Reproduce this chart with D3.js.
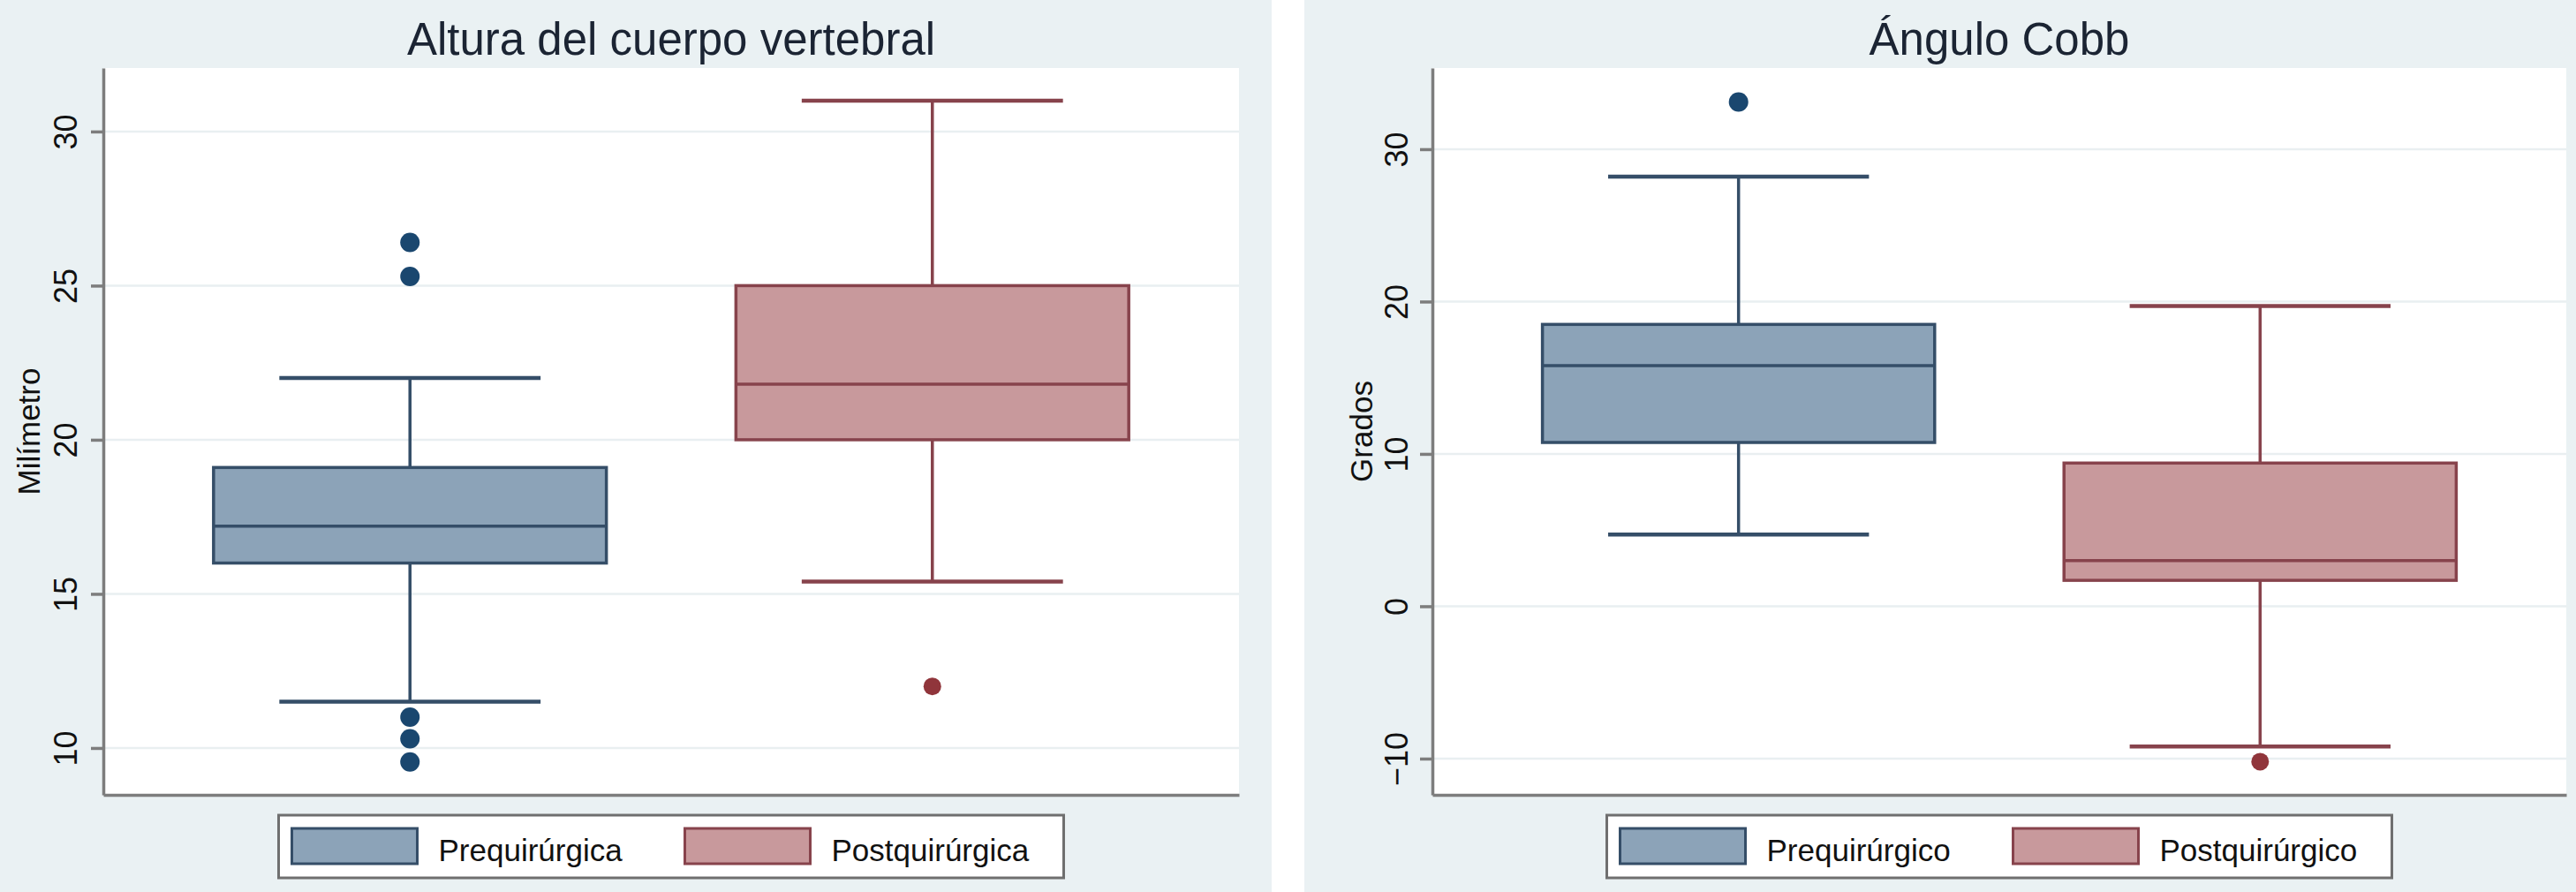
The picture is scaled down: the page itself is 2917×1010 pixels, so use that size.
<!DOCTYPE html>
<html lang="es">
  <head>
    <meta charset="UTF-8" />
    <title>Altura del cuerpo vertebral / Ángulo Cobb</title>
    <style>
      body {
        margin: 0;
        background: #fff;
        font-family: "Liberation Sans", Arial, Helvetica, sans-serif;
      }
      .title {
        font-size: 51px;
        fill: #1b2433;
        text-anchor: middle;
      }
      .y-title {
        font-size: 35px;
        fill: #111;
        text-anchor: middle;
      }
      .axis text {
        font-family: "Liberation Sans", Arial, Helvetica, sans-serif;
        font-size: 36px;
        fill: #111;
      }
      .axis path,
      .axis line {
        stroke: #7d7d7d;
        stroke-width: 3.5;
      }
      .legend-label {
        font-size: 35px;
        fill: #111;
      }
    </style>
  </head>
  <body>
    <script src="https://cdn.jsdelivr.net/npm/d3@7"></script>
    <script>
      // Altura del cuerpo vertebral (mm)
      const alturaGroups = ["Prequirúrgica", "Postquirúrgica"];
      const alturaLow = [11.5, 15.4];
      const alturaQ1 = [16.0, 20.0];
      const alturaMedian = [17.2, 21.8];
      const alturaQ3 = [19.1, 25.0];
      const alturaHigh = [22.0, 31.0];
      const alturaOutliers = [[26.4, 25.3, 11.0, 10.3, 9.55], [12.0]];
      const alturaTicks = [10, 15, 20, 25, 30];

      // Ángulo Cobb (grados)
      const cobbGroups = ["Prequirúrgico", "Postquirúrgico"];
      const cobbLow = [4.7, -9.2];
      const cobbQ1 = [10.75, 1.7];
      const cobbMedian = [15.8, 3.0];
      const cobbQ3 = [18.5, 9.4];
      const cobbHigh = [28.2, 19.7];
      const cobbOutliers = [[33.1], [-10.2]];
      const cobbTicks = [-10, 0, 10, 20, 30];

      const width = 2917;
      const height = 1010;
      const panelBg = "#eaf1f3";
      const fills = ["#8ca3b8", "#c8999c"];
      const strokes = ["#354e68", "#87434c"];
      const dotColors = ["#1a476f", "#90353b"];

      const svg = d3
        .select("body")
        .append("svg")
        .attr("width", width)
        .attr("height", height);

      function drawPanel(p) {
        const g = svg.append("g").attr("transform", `translate(${p.x0},0)`);

        g.append("rect")
          .attr("width", p.width)
          .attr("height", height)
          .attr("fill", panelBg);

        const y = d3.scaleLinear().domain(p.yDomain).range([p.bottom, p.top]);
        const x = d3
          .scalePoint()
          .domain(p.groups)
          .range([p.left, p.right])
          .padding(0.587);
        const boxW = x.step() * 0.752;
        const capW = boxW * 0.665;
        const midX = (p.left + p.right) / 2;

        // plot region
        g.append("rect")
          .attr("x", p.left)
          .attr("y", p.top)
          .attr("width", p.right - p.left)
          .attr("height", p.bottom - p.top)
          .attr("fill", "#fff");

        // grid lines
        g.append("g")
          .selectAll("line")
          .data(p.ticks)
          .join("line")
          .attr("x1", p.left)
          .attr("x2", p.right)
          .attr("y1", d => y(d))
          .attr("y2", d => y(d))
          .attr("stroke", "#e9eff1")
          .attr("stroke-width", 2.5);

        // y axis with vertical labels
        const yAxis = g
          .append("g")
          .attr("class", "axis")
          .attr("transform", `translate(${p.left},0)`)
          .call(
            d3.axisLeft(y).tickValues(p.ticks).tickSize(14).tickSizeOuter(0)
          );
        yAxis
          .selectAll(".tick text")
          .attr("x", 0)
          .attr("y", -p.labelGap)
          .attr("dy", null)
          .attr("text-anchor", "middle")
          .attr("transform", "rotate(-90)");

        // x axis line only
        g.append("g")
          .attr("class", "axis")
          .attr("transform", `translate(0,${p.bottom})`)
          .call(d3.axisBottom(x).tickValues([]).tickSizeOuter(0));

        // titles
        g.append("text")
          .attr("class", "title")
          .attr("x", midX)
          .attr("y", 62)
          .text(p.title);

        g.append("text")
          .attr("class", "y-title")
          .attr("transform", `translate(${p.yTitleX},${(p.top + p.bottom) / 2}) rotate(-90)`)
          .text(p.yTitle);

        const stats = p.groups.map((grp, i) => ({
          grp,
          i,
          lo: p.low[i],
          q1: p.q1[i],
          med: p.median[i],
          q3: p.q3[i],
          hi: p.high[i],
          out: p.outliers[i]
        }));

        const boxes = g
          .append("g")
          .selectAll("g")
          .data(stats)
          .join("g");

        // whiskers
        boxes
          .append("line")
          .attr("x1", d => x(d.grp))
          .attr("x2", d => x(d.grp))
          .attr("y1", d => y(d.hi))
          .attr("y2", d => y(d.q3))
          .attr("stroke", d => strokes[d.i])
          .attr("stroke-width", 3.5);
        boxes
          .append("line")
          .attr("x1", d => x(d.grp))
          .attr("x2", d => x(d.grp))
          .attr("y1", d => y(d.q1))
          .attr("y2", d => y(d.lo))
          .attr("stroke", d => strokes[d.i])
          .attr("stroke-width", 3.5);

        // caps
        boxes
          .selectAll(".cap")
          .data(d => [d.lo, d.hi].map(v => ({ v, grp: d.grp, i: d.i })))
          .join("line")
          .attr("class", "cap")
          .attr("x1", d => x(d.grp) - capW / 2)
          .attr("x2", d => x(d.grp) + capW / 2)
          .attr("y1", d => y(d.v))
          .attr("y2", d => y(d.v))
          .attr("stroke", d => strokes[d.i])
          .attr("stroke-width", 4.5);

        // box
        boxes
          .append("rect")
          .attr("x", d => x(d.grp) - boxW / 2)
          .attr("width", boxW)
          .attr("y", d => y(d.q3))
          .attr("height", d => y(d.q1) - y(d.q3))
          .attr("fill", d => fills[d.i])
          .attr("stroke", d => strokes[d.i])
          .attr("stroke-width", 3.5);

        // median
        boxes
          .append("line")
          .attr("x1", d => x(d.grp) - boxW / 2)
          .attr("x2", d => x(d.grp) + boxW / 2)
          .attr("y1", d => y(d.med))
          .attr("y2", d => y(d.med))
          .attr("stroke", d => strokes[d.i])
          .attr("stroke-width", 3.5);

        // outside values
        boxes
          .selectAll("circle")
          .data(d => d.out.map(v => ({ v, grp: d.grp, i: d.i })))
          .join("circle")
          .attr("cx", d => x(d.grp))
          .attr("cy", d => y(d.v))
          .attr("r", d => (d.i === 0 ? 11 : 10))
          .attr("fill", d => dotColors[d.i]);

        // legend
        const legW = 889;
        const legX = midX - legW / 2;
        const leg = g.append("g").attr("transform", `translate(${legX},923)`);
        leg
          .append("rect")
          .attr("width", legW)
          .attr("height", 71)
          .attr("fill", "#fff")
          .attr("stroke", "#6f6f6f")
          .attr("stroke-width", 3);

        const items = leg
          .selectAll(".item")
          .data(p.groups)
          .join("g")
          .attr("class", "item")
          .attr("transform", (d, i) => `translate(${15 + i * 445},0)`);
        items
          .append("rect")
          .attr("y", 15)
          .attr("width", 142)
          .attr("height", 40)
          .attr("fill", (d, i) => fills[i])
          .attr("stroke", (d, i) => strokes[i])
          .attr("stroke-width", 3);
        items
          .append("text")
          .attr("class", "legend-label")
          .attr("x", 166)
          .attr("y", 52)
          .text(d => d);
      }

      drawPanel({
        x0: 0,
        width: 1440,
        left: 117,
        right: 1403,
        top: 77,
        bottom: 900,
        yDomain: [8.48, 32.06],
        labelGap: 30,
        yTitleX: 45,
        title: "Altura del cuerpo vertebral",
        yTitle: "Milímetro",
        groups: alturaGroups,
        low: alturaLow,
        q1: alturaQ1,
        median: alturaMedian,
        q3: alturaQ3,
        high: alturaHigh,
        outliers: alturaOutliers,
        ticks: alturaTicks
      });

      drawPanel({
        x0: 1477,
        width: 1440,
        left: 145,
        right: 1429,
        top: 77,
        bottom: 900,
        yDomain: [-12.38, 35.33],
        labelGap: 28,
        yTitleX: 77,
        title: "Ángulo Cobb",
        yTitle: "Grados",
        groups: cobbGroups,
        low: cobbLow,
        q1: cobbQ1,
        median: cobbMedian,
        q3: cobbQ3,
        high: cobbHigh,
        outliers: cobbOutliers,
        ticks: cobbTicks
      });
    </script>
  </body>
</html>
